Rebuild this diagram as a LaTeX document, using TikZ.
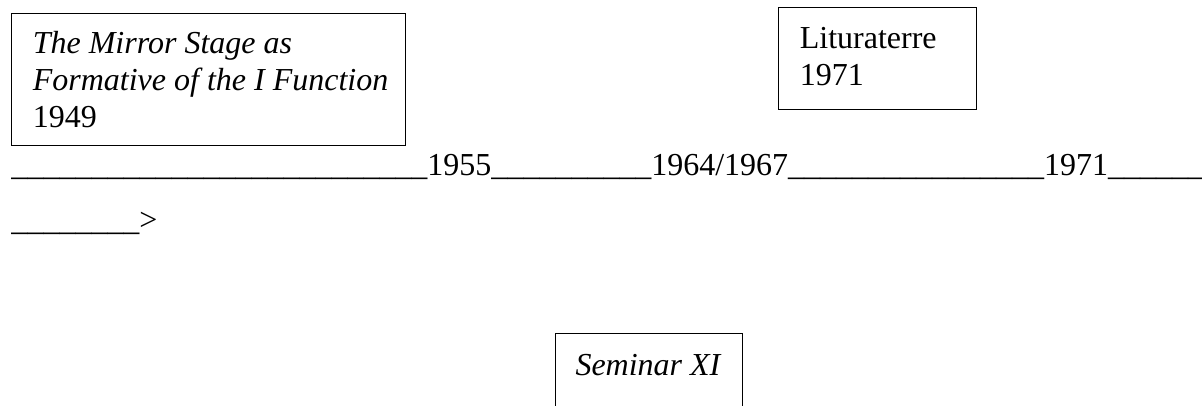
\documentclass[tikz,border=0pt]{standalone}
\usepackage{fontspec}
\setmainfont{Liberation Serif}

\newcommand{\blanks}[1]{\foreach \k in {1,...,#1}{\_}}

\begin{document}
\begin{tikzpicture}[
    x=0.75pt, y=-0.75pt,
    font=\fontsize{24pt}{27.75pt}\selectfont,
    textbox/.style={draw, line width=0.75pt, anchor=north west, align=left,
      inner xsep=16pt, inner ysep=0pt, execute at begin node={\spaceskip=6pt}},
    line/.style={anchor=base west, inner sep=0pt}
  ]
    \useasboundingbox (0,0) rectangle (1202,405);
    \clip (0,0) rectangle (1202,405);

    \node[textbox, text width=263.5pt, text height=30pt, text depth=69pt] (mirror) at (11,13)
      {\mbox{\textit{The Mirror Stage as}}\\ \mbox{\textit{Formative of the I Function}}\\ \mbox{1949}};
    \node[textbox, text width=116.5pt, text height=30.75pt, text depth=45.75pt] (litur) at (778,7)
      {\mbox{Lituraterre}\\ \mbox{1971}};

    \node[line] (timeline) at (11,175)
      {\blanks{26}1955\blanks{10}1964/1967\blanks{16}1971\blanks{6}};
    \node[line] (arrow) at (11,230) {\blanks{8}>};

    \node[textbox, inner xsep=15pt, text width=110.25pt, text height=31.5pt, text depth=45pt] (sem) at (555,333)
      {\mbox{\textit{Seminar XI}}};
\end{tikzpicture}
\end{document}
